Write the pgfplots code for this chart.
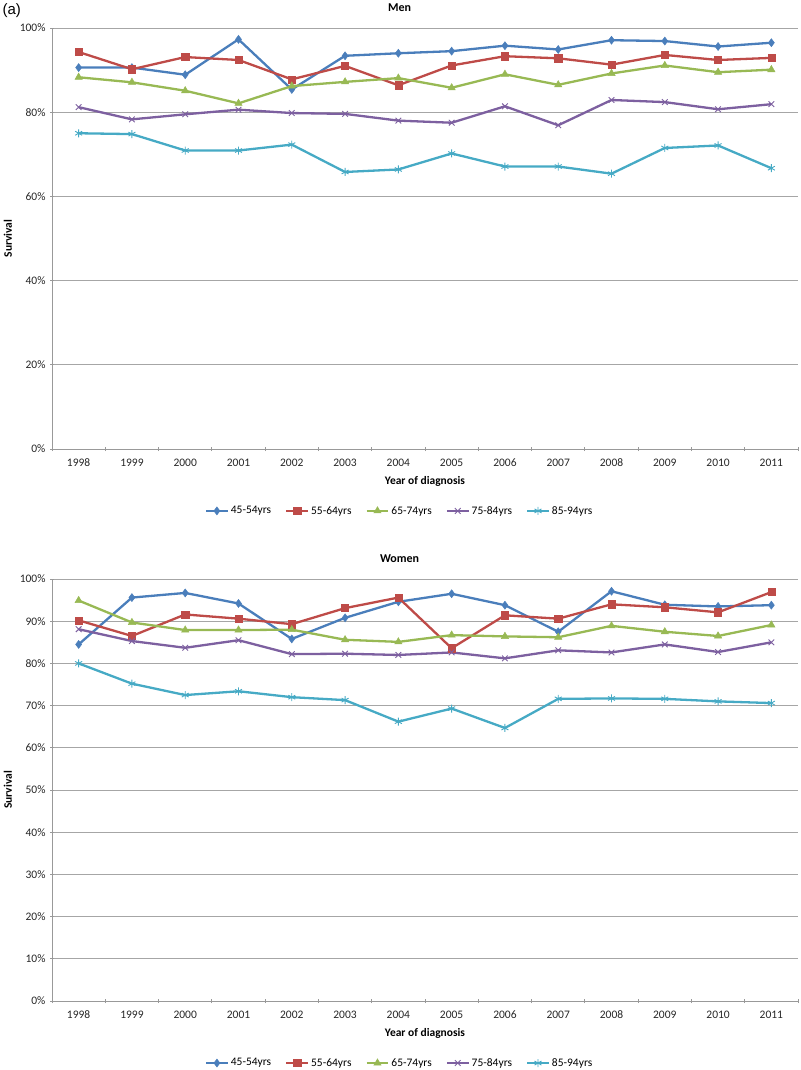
\documentclass[border=0pt]{standalone}
\usepackage{pgfplots}
\usepackage{pgfplotstable}
\pgfplotsset{compat=1.18}
\usepackage{fontspec}
\setmainfont{Carlito}
\newfontfamily\arialfont{Liberation Sans}
\definecolor{cA}{HTML}{4A7EBB}
\definecolor{cB}{HTML}{BE4B48}
\definecolor{cC}{HTML}{98B954}
\definecolor{cD}{HTML}{7D60A0}
\definecolor{cE}{HTML}{46AAC5}

\pgfplotstableread{
x a b c d e
0 90.6 94.3 88.3 81.2 75.0
1 90.6 90.2 87.1 78.3 74.8
2 88.9 93.1 85.1 79.5 70.9
3 97.3 92.4 82.1 80.6 70.9
4 85.4 87.8 86.2 79.8 72.3
5 93.4 91.0 87.2 79.6 65.8
6 94.0 86.4 88.1 78.0 66.4
7 94.5 91.1 85.8 77.5 70.2
8 95.8 93.3 89.0 81.4 67.1
9 94.9 92.8 86.5 76.9 67.1
10 97.1 91.3 89.2 82.9 65.4
11 96.9 93.6 91.1 82.4 71.5
12 95.6 92.4 89.5 80.7 72.1
13 96.5 92.9 90.1 81.9 66.7
}\men

\pgfplotstableread{
x a b c d e
0 84.5 90.2 94.9 88.1 80.0
1 95.6 86.5 89.7 85.3 75.2
2 96.7 91.6 87.9 83.7 72.5
3 94.2 90.6 87.9 85.5 73.4
4 85.8 89.3 88.0 82.2 72.0
5 90.8 93.1 85.6 82.3 71.3
6 94.6 95.6 85.1 82.0 66.2
7 96.5 83.6 86.7 82.6 69.3
8 93.8 91.4 86.4 81.2 64.7
9 87.5 90.6 86.2 83.1 71.6
10 97.1 94.0 88.9 82.6 71.7
11 93.9 93.3 87.5 84.5 71.6
12 93.5 92.1 86.5 82.7 71.0
13 93.8 96.9 89.1 85.0 70.6
}\women

\pgfplotsset{
  excel/.style={
    scale only axis,
    width=746pt,
    xmin=-0.5, xmax=13.5,
    ymin=0, ymax=100,
    xtick={0,...,13},
    xticklabels={1998,1999,2000,2001,2002,2003,2004,2005,2006,2007,2008,2009,2010,2011},
    minor xtick={-0.5,0.5,...,13.5},
    major x tick style={draw=none},
    tick align=outside,
    tick pos=left,
    axis x line=bottom,
    axis y line=left,
    axis line style={draw=black!40, line width=0.9pt, -},
    tick style={draw=black!40, line width=0.8pt},
    major tick length=4pt,
    minor tick length=4pt,
    ymajorgrids,
    major grid style={draw=black!35, line width=0.9pt},
    /pgf/number format/assume math mode=true,
    yticklabel={\pgfmathprintnumber{\tick}\%},
    tick label style={font=\fontsize{11.5}{13}\selectfont, black!85},
    xticklabel style={yshift=-4pt},
    yticklabel style={xshift=-1pt},
    title style={font=\bfseries\fontsize{12}{14}\selectfont, at={(0.466,1)}, anchor=center, yshift=14pt},
    xlabel={Year of diagnosis},
    xlabel style={font=\bfseries\fontsize{11.5}{13}\selectfont, at={(0.5,0)}, anchor=center, yshift=-32pt},
    ylabel={Survival},
    ylabel style={font=\bfseries\fontsize{11.5}{13}\selectfont, at={(axis description cs:-0.059,0.5)}, anchor=center},
    legend columns=5,
    legend style={draw=none, fill=none, font=\fontsize{11.5}{13}\selectfont,
      anchor=center, /tikz/every even column/.append style={column sep=12pt}},
    legend image code/.code={
      \draw[mark repeat=2,mark phase=2] plot coordinates {(0cm,0cm) (0.38cm,0cm) (0.76cm,0cm)};},
    every axis plot/.append style={line width=2.3pt},
    sA/.style={color=cA, mark=diamond*, mark size=4pt, mark options={solid, line width=0.5pt}},
    sB/.style={color=cB, mark=square*, mark size=3.6pt, mark options={solid, line width=0.5pt}},
    sC/.style={color=cC, mark=triangle*, mark size=4.2pt, mark options={solid, line width=0.5pt}},
    sD/.style={color=cD, mark=x, mark size=4pt, mark options={solid, line width=0.9pt}},
    sE/.style={color=cE, mark=asterisk, mark size=4pt, mark options={solid, line width=0.9pt}},
  }
}

\begin{document}
\begin{tikzpicture}
\useasboundingbox (0pt,0pt) rectangle (800pt,-1070pt);
\node[anchor=west, font=\arialfont\fontsize{15}{17}\selectfont] at (-1pt,-11pt) {(a)};

\begin{axis}[excel, at={(52pt,-449pt)}, anchor=south west, height=421pt,
  title={Men},
  ytick={0,20,...,100},
  legend style={at={(0.466,-0.147)}}]
\addplot[sA] table[x=x,y=a] {\men};
\addplot[sB] table[x=x,y=b] {\men};
\addplot[sC] table[x=x,y=c] {\men};
\addplot[sD] table[x=x,y=d] {\men};
\addplot[sE] table[x=x,y=e] {\men};
\legend{45-54yrs,55-64yrs,65-74yrs,75-84yrs,85-94yrs}
\end{axis}

\begin{axis}[excel, at={(52pt,-1001pt)}, anchor=south west, height=422pt,
  title={Women},
  ytick={0,10,...,100},
  legend style={at={(0.466,-0.147)}}]
\addplot[sA] table[x=x,y=a] {\women};
\addplot[sB] table[x=x,y=b] {\women};
\addplot[sC] table[x=x,y=c] {\women};
\addplot[sD] table[x=x,y=d] {\women};
\addplot[sE] table[x=x,y=e] {\women};
\legend{45-54yrs,55-64yrs,65-74yrs,75-84yrs,85-94yrs}
\end{axis}
\end{tikzpicture}
\end{document}
